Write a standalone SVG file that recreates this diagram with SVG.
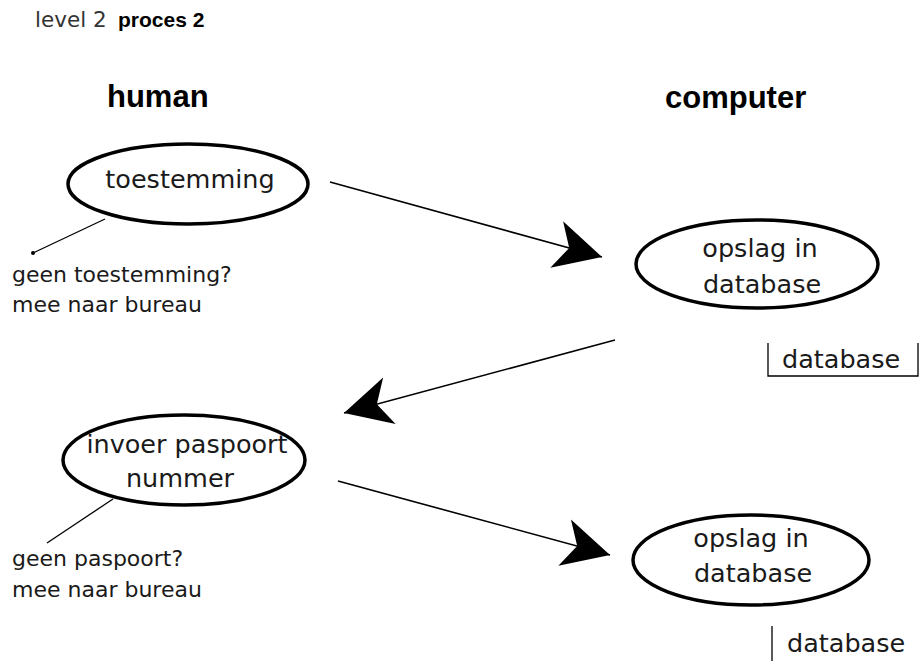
<svg xmlns="http://www.w3.org/2000/svg" width="921" height="661" viewBox="0 0 921 661">
<style>
.bg{fill:#fff}
.ell{fill:#fff;stroke:#000;stroke-width:3.5}
.et{font-family:"DejaVu Sans",sans-serif;font-size:25.5px;fill:#1a1a1a;text-anchor:middle}
.at{font-family:"DejaVu Sans",sans-serif;font-size:22px;fill:#1a1a1a}
.dbt{font-family:"DejaVu Sans",sans-serif;font-size:25.5px;fill:#1a1a1a}
.hd{font-family:"Liberation Sans",Arial,sans-serif;font-weight:bold;font-size:31px;fill:#000}
.conn{stroke:#000;stroke-width:1.6;fill:none}
.thin{stroke:#000;stroke-width:1.3;fill:none}
.box{stroke:#000;stroke-width:1.3;fill:none}
</style>
<defs>
<marker id="ah" markerUnits="userSpaceOnUse" viewBox="-50 -27 54 54" refX="0" refY="0" markerWidth="54" markerHeight="54" orient="auto">
<path d="M0,0 L-47,-24 L-34,0 L-47,24 Z" fill="#000"/>
</marker>
</defs>
<rect class="bg" x="0" y="0" width="921" height="661"/>
<g id="title">
<text x="35" y="27" font-family="DejaVu Sans,sans-serif" font-size="21.5" fill="#333">level 2</text>
<text x="118" y="27" font-family="Liberation Sans,Arial,sans-serif" font-weight="bold" font-size="21" fill="#000">proces 2</text>
</g>
<g id="lane-human"><text class="hd" x="107" y="107">human</text></g>
<g id="lane-computer"><text class="hd" x="665" y="108">computer</text></g>
<g id="connectors">
<line class="conn" x1="330" y1="182" x2="602" y2="257" marker-end="url(#ah)"/>
<line class="conn" x1="615" y1="340" x2="344" y2="413" marker-end="url(#ah)"/>
<line class="conn" x1="338" y1="481" x2="610" y2="555" marker-end="url(#ah)"/>
<line class="thin" x1="105" y1="219" x2="33" y2="253"/>
<circle cx="33" cy="253" r="2" fill="#000"/>
<line class="thin" x1="113" y1="499" x2="47" y2="543"/>
</g>
<g id="node-toestemming">
<ellipse class="ell" cx="188" cy="184" rx="120" ry="40"/>
<text class="et" x="190" y="188">toestemming</text>
</g>
<g id="note-toestemming">
<text class="at" x="12" y="282">geen toestemming?</text>
<text class="at" x="12" y="312">mee naar bureau</text>
</g>
<g id="node-opslag1">
<ellipse class="ell" cx="757" cy="264" rx="121" ry="44"/>
<text class="et" x="760" y="257">opslag in</text>
<text class="et" x="762" y="293">database</text>
</g>
<g id="store-database1">
<path class="box" d="M768,343 V376 H918 V343"/>
<text class="dbt" x="782" y="368">database</text>
</g>
<g id="node-invoer">
<ellipse class="ell" cx="184" cy="460" rx="121" ry="45"/>
<text class="et" x="187" y="453">invoer paspoort</text>
<text class="et" x="180" y="487">nummer</text>
</g>
<g id="note-paspoort">
<text class="at" x="12" y="566">geen paspoort?</text>
<text class="at" x="12" y="597">mee naar bureau</text>
</g>
<g id="node-opslag2">
<ellipse class="ell" cx="751" cy="560" rx="118" ry="45"/>
<text class="et" x="751" y="547">opslag in</text>
<text class="et" x="753" y="582">database</text>
</g>
<g id="store-database2">
<line class="box" x1="772" y1="626" x2="772" y2="661"/>
<text class="dbt" x="787" y="652">database</text>
</g>
</svg>
